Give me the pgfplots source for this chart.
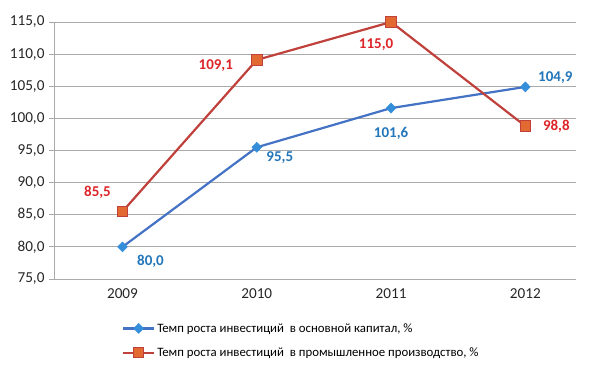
\documentclass[border=0pt]{standalone}
\usepackage{fontspec}
\setmainfont{Carlito}
\usepackage{pgfplots}
\pgfplotsset{compat=1.18}
\definecolor{blueline}{RGB}{68,114,196}
\definecolor{bluemark}{RGB}{52,142,218}
\definecolor{bluetext}{RGB}{35,118,185}
\definecolor{redline}{RGB}{192,64,60}
\definecolor{redmark}{RGB}{226,106,50}
\definecolor{redtext}{RGB}{220,38,42}
\definecolor{gridc}{RGB}{170,170,170}
\begin{document}
\begin{tikzpicture}[x=1pt,y=1pt]
\useasboundingbox (-54,-93) rectangle (554,279);
\begin{axis}[
  scale only axis, width=522pt, height=257pt,
  at={(0,0)}, anchor=south west,
  xmin=-0.51, xmax=3.377, ymin=75, ymax=115,
  axis x line*=bottom, axis y line*=left,
  axis line style={gridc, line width=0.8pt},
  xtick={0,1,2,3}, xticklabels={2009,2010,2011,2012},
  extra x ticks={0.5,1.5,2.5}, extra x tick labels={},
  extra x tick style={major tick length=5pt, tick style={gridc,line width=0.8pt}, tick align=outside},
  x tick style={draw=none},
  ytick={75,80,...,115},
  ymajorgrids, grid style={gridc, line width=0.8pt},
  y tick style={gridc,line width=0.8pt}, tick align=outside, major tick length=5pt,
  ticklabel style={font=\fontsize{15.2}{17}\selectfont, text=black!85},
  yticklabel style={xshift=-1pt, /pgf/number format/.cd, fixed, fixed zerofill, precision=1, use comma, assume math mode=true},
  xticklabel style={yshift=-1pt},
  legend style={at={(axis description cs:0.13,-0.156)}, anchor=north west, draw=none, fill=none,
    font=\fontsize{12.8}{14}\selectfont, row sep=10pt, legend cell align=left, inner xsep=0pt},
  legend image code/.code={\draw[#1] (0pt,0pt) -- (31pt,0pt); \draw[#1, mark repeat=1] plot coordinates {(15.5pt,0pt)};},
  clip=false,
]
\addplot[blueline, line width=2.2pt, mark=diamond*, mark size=5pt, mark options={fill=bluemark, draw=bluemark, line width=0.5pt, xscale=1.3}]
  coordinates {(0,80.0) (1,95.5) (2,101.6) (3,104.9)};
\addlegendentry{Темп роста инвестиций \ в основной капитал, \%}
\addplot[redline, line width=2.2pt, mark=square*, mark size=5.2pt, mark options={fill=redmark, draw=redline, line width=0.8pt}]
  coordinates {(0,85.5) (1,109.1) (2,115.0) (3,98.8)};
\addlegendentry{Темп роста инвестиций \ в промышленное производство, \%}
\begin{scope}[every node/.style={font=\fontsize{15}{17}\selectfont\bfseries}]
\node[text=bluetext, xshift=28pt, yshift=-14pt] at (axis cs:0,80.0) {80,0};
\node[text=bluetext, xshift=23pt, yshift=-10pt] at (axis cs:1,95.5) {95,5};
\node[text=bluetext, xshift=0pt, yshift=-25pt] at (axis cs:2,101.6) {101,6};
\node[text=bluetext, xshift=30pt, yshift=9pt] at (axis cs:3,104.9) {104,9};
\node[text=redtext, xshift=-25pt, yshift=19pt] at (axis cs:0,85.5) {85,5};
\node[text=redtext, xshift=-41pt, yshift=-6pt] at (axis cs:1,109.1) {109,1};
\node[text=redtext, xshift=-15pt, yshift=-23pt] at (axis cs:2,115.0) {115,0};
\node[text=redtext, xshift=31pt, yshift=0pt] at (axis cs:3,98.8) {98,8};
\end{scope}
\end{axis}
\end{tikzpicture}
\end{document}
